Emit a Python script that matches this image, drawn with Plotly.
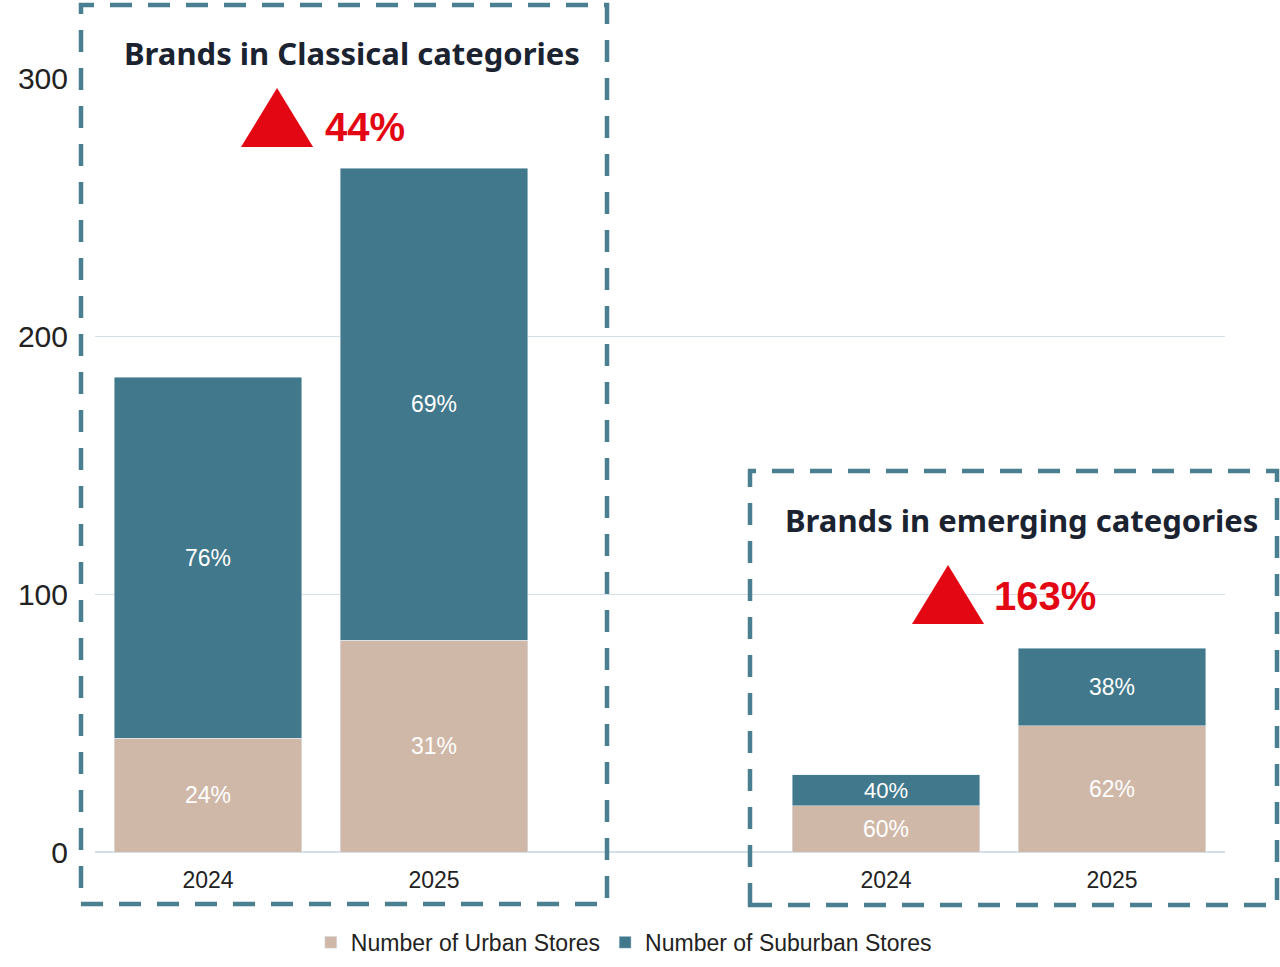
import plotly.graph_objects as go

# ---- data ----
x_pos = [0, 1, 3, 4]
years = ["2024", "2025", "2024", "2025"]
urban = [44, 82, 18, 49]
suburban = [140, 183, 12, 30]
urban_pct = ["24%", "31%", "60%", "62%"]
suburban_pct = ["76%", "69%", "40%", "38%"]
growth = ["44%", "163%"]
group_titles = ["Brands in Classical categories", "Brands in emerging categories"]

C_URBAN = "#D0B8A8"
C_SUB = "#41788B"
C_BOX = "#4A7F91"
C_RED = "#E30613"

fig = go.Figure()
fig.add_trace(go.Bar(
    x=x_pos, y=urban, name="Number of Urban Stores", marker_color=C_URBAN,
    width=0.83, text=urban_pct, textposition="inside", insidetextanchor="middle",
    textfont=dict(color="white", size=23, family="Liberation Sans, Arial"),
    hoverinfo="skip"))
fig.add_trace(go.Bar(
    x=x_pos, y=suburban, name="Number of Suburban Stores", marker_color=C_SUB,
    width=0.83, text=suburban_pct, textposition="inside", insidetextanchor="middle",
    textfont=dict(color="white", size=23, family="Liberation Sans, Arial"),
    hoverinfo="skip"))

fig.update_layout(
    barmode="stack",
    width=1280, height=967,
    margin=dict(l=95, r=55, t=78, b=115, autoexpand=False),
    plot_bgcolor="white", paper_bgcolor="white",
    font=dict(family="Liberation Sans, Arial", color="#222222"),
    legend=dict(orientation="h", x=0.468, xanchor="center", y=-0.089, yanchor="top",
                font=dict(size=23, color="#222222"), traceorder="normal"),
    xaxis=dict(range=[-0.5, 4.5], tickvals=x_pos, ticktext=years, showgrid=False,
               zeroline=False, showline=False, ticks="", ticklabelstandoff=12,
               automargin=False, tickfont=dict(size=23, color="#222222")),
    yaxis=dict(range=[0, 300], tickvals=[0, 100, 200, 300], showgrid=True,
               gridcolor="#D5DFE8", gridwidth=1.2, zeroline=True, zerolinecolor="#D5DFE8",
               zerolinewidth=1.5, showline=False, ticks="", ticklabelstandoff=26,
               automargin=False, tickfont=dict(size=30, color="#222222")),
)

# dashed group boxes (paper coords)
def px_to_paper(px, py):
    return (px - 95) / 1130, (852 - py) / 774

for (a, b, c, d) in [(81, 5, 607, 904), (750, 471, 1277, 905)]:
    x0, y1 = px_to_paper(a, b)
    x1, y0 = px_to_paper(c, d)
    fig.add_shape(type="rect", xref="paper", yref="paper", x0=x0, x1=x1, y0=y0, y1=y1,
                  line=dict(color=C_BOX, width=4.5, dash="22px,16px"), layer="above")

# red triangles
for (xl, xr, yb, yt) in [(0.146, 0.465, 273.3, 296.1), (3.115, 3.434, 88.4, 111.2)]:
    xm = (xl + xr) / 2
    fig.add_shape(type="path", xref="x", yref="y",
                  path=f"M {xl},{yb} L {xr},{yb} L {xm},{yt} Z",
                  fillcolor=C_RED, line=dict(color=C_RED, width=0), layer="above")

# growth labels
for (xx, yy, t) in [(0.509, 281, growth[0]), (3.469, 99.2, growth[1])]:
    fig.add_annotation(x=xx, y=yy, xref="x", yref="y", text=f"<b>{t}</b>",
                       showarrow=False, xanchor="left", yanchor="middle",
                       font=dict(size=40, color=C_RED, family="Liberation Sans, Arial"))

# group titles (paper coords)
for (px, py, t) in [(352, 53, group_titles[0]), (1021, 520, group_titles[1])]:
    xx, yy = px_to_paper(px, py)
    fig.add_annotation(x=xx, y=yy, xref="paper", yref="paper", text=f"<b>{t}</b>",
                       showarrow=False, xanchor="center", yanchor="middle",
                       font=dict(size=31, color="#1B2331", family="Noto Sans"))

fig.write_html("out.html")
